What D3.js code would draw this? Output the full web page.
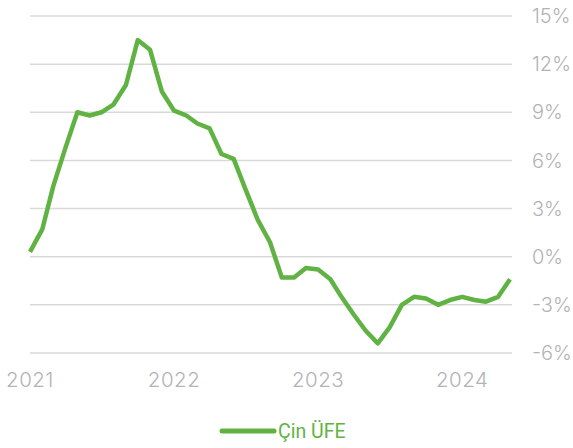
<!DOCTYPE html>
<html>
<head>
<meta charset="utf-8">
<script src="https://cdn.jsdelivr.net/npm/d3@7"></script>
<style>
  body { margin: 0; background: #fff; }
  text { font-family: "Inter", "Lato", sans-serif; }
</style>
</head>
<body>
<svg id="chart" width="573" height="448"></svg>
<script>
// Çin ÜFE, aylık yıllık % değişim (Oca 2021 - May 2024)
const months = d3.range(41).map(i => new Date(2021, i, 1))
const ppi = [0.3, 1.7, 4.4, 6.8, 9.0, 8.8, 9.0, 9.5, 10.7, 13.5, 12.9, 10.3,
             9.1, 8.8, 8.3, 8.0, 6.4, 6.1, 4.2, 2.3, 0.9, -1.3, -1.3, -0.7,
             -0.8, -1.4, -2.5, -3.6, -4.6, -5.4, -4.4, -3.0, -2.5, -2.6, -3.0, -2.7,
             -2.5, -2.7, -2.8, -2.5, -1.4]
const yTicks = [15, 12, 9, 6, 3, 0, -3, -6]
const xTicks = [2021, 2022, 2023, 2024]
const seriesName = "Çin ÜFE"

const svg = d3.select('#chart')
const green = '#60b343'
const plotLeft = 30, plotRight = 512, plotTop = 16, plotBottom = 353

const x = d3.scaleTime()
    .domain([months[0], months[months.length - 1]])
    .range([plotLeft, 510])
const y = d3.scaleLinear().domain([-6, 15]).range([plotBottom, plotTop])

// grid + y labels
svg.append('g')
    .selectAll('line')
    .data(yTicks)
    .join('line')
    .attr('x1', plotLeft)
    .attr('x2', plotRight)
    .attr('y1', d => y(d))
    .attr('y2', d => y(d))
    .attr('stroke', '#d9d9d9')
    .attr('stroke-width', 1.5)

svg.append('g')
    .selectAll('text')
    .data(yTicks)
    .join('text')
    .attr('x', 532)
    .attr('y', d => y(d))
    .attr('dy', '0.36em')
    .attr('fill', '#b3b3b3')
    .attr('font-size', 20)
    .attr('font-weight', 300)
    .text(d => (d < 0 ? '-' + Math.abs(d) : d) + '%')

// x labels
svg.append('g')
    .selectAll('text')
    .data(xTicks)
    .join('text')
    .attr('x', d => x(new Date(d, 0, 1)))
    .attr('y', 387)
    .attr('text-anchor', 'middle')
    .attr('fill', '#b3b3b3')
    .attr('font-size', 20.5)
    .attr('font-weight', 300)
    .attr('letter-spacing', 0.5)
    .text(d => d)

// line
const line = d3.line()
    .x((d, i) => x(months[i]))
    .y(d => y(d))

svg.append('path')
    .datum(ppi)
    .attr('d', line)
    .attr('fill', 'none')
    .attr('stroke', green)
    .attr('stroke-width', 4.5)
    .attr('stroke-linejoin', 'round')

// legend
const lg = svg.append('g')
lg.append('line')
    .attr('x1', 222).attr('x2', 274)
    .attr('y1', 431).attr('y2', 431)
    .attr('stroke', green)
    .attr('stroke-width', 5)
    .attr('stroke-linecap', 'round')
lg.append('text')
    .attr('x', 278)
    .attr('y', 431)
    .attr('dy', '0.36em')
    .attr('fill', green)
    .attr('font-size', 19.5)
    .style('font-family', 'Roboto, sans-serif')
    .text(seriesName)
</script>
</body>
</html>
